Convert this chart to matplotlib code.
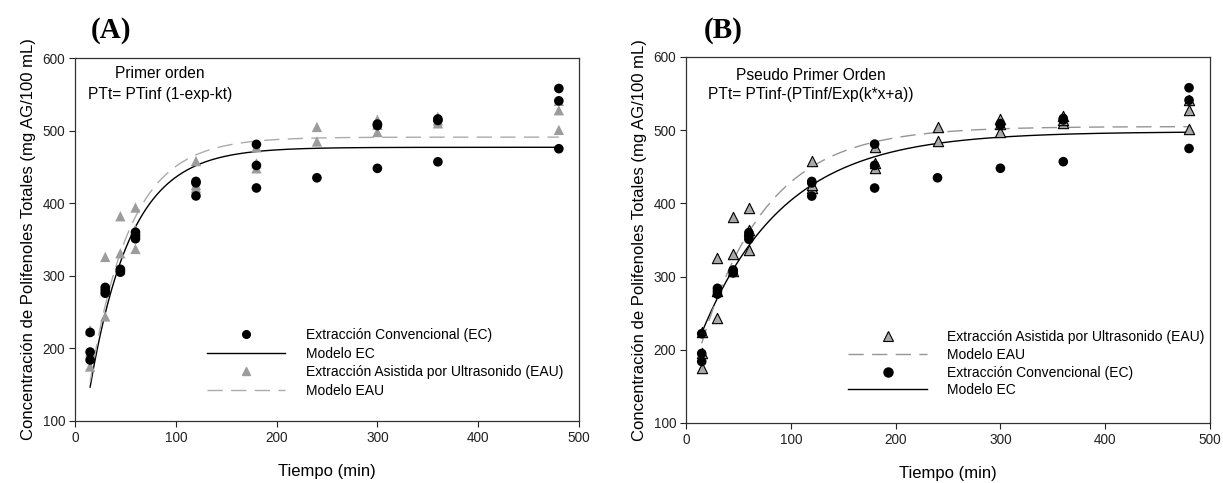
import numpy as np
import matplotlib
matplotlib.use("Agg")
import matplotlib.pyplot as plt
from matplotlib.lines import Line2D

plt.rcParams['font.family'] = ['Liberation Sans', 'DejaVu Sans']

# Extraction time (min) and total polyphenol content (mg AG/100 mL)
ec_t = [15, 15, 15, 30, 30, 30, 45, 45, 45, 60, 60, 60, 120, 120, 120,
        180, 180, 180, 240, 300, 300, 300, 360, 360, 360, 480, 480, 480]
ec_v = [184, 195, 222, 276, 280, 284, 305, 307, 309, 351, 355, 360, 410, 428, 430,
        421, 452, 481, 435, 448, 507, 509, 457, 514, 516, 475, 541, 558]

eau_t = [15, 15, 15, 30, 30, 30, 45, 45, 45, 60, 60, 60, 120, 120, 120,
         180, 180, 180, 240, 240, 300, 300, 300, 360, 360, 360, 480, 480, 480]
eau_v = [175, 195, 225, 244, 280, 326, 308, 331, 382, 337, 364, 394, 421, 425, 458,
         448, 455, 477, 485, 505, 498, 508, 515, 510, 514, 519, 501, 528, 541]

# First order model: PTt = PTinf (1 - exp(-k t))
fo_ec_ptinf, fo_ec_k = 477.0, 0.0245
fo_eau_ptinf, fo_eau_k = 491.0, 0.0250

# Pseudo first order model: PTt = PTinf - PTinf / exp(k t + a)
pfo_ec_ptinf, pfo_ec_k, pfo_ec_a = 498.0, 0.01263, 0.405
pfo_eau_ptinf, pfo_eau_k, pfo_eau_a = 505.0, 0.01603, 0.293

t_model = np.linspace(15, 480, 400)
fo_ec = fo_ec_ptinf * (1 - np.exp(-fo_ec_k * t_model))
fo_eau = fo_eau_ptinf * (1 - np.exp(-fo_eau_k * t_model))
pfo_ec = pfo_ec_ptinf - pfo_ec_ptinf / np.exp(pfo_ec_k * t_model + pfo_ec_a)
pfo_eau = pfo_eau_ptinf - pfo_eau_ptinf / np.exp(pfo_eau_k * t_model + pfo_eau_a)

x_ticks = [0, 100, 200, 300, 400, 500]
y_ticks = [100, 200, 300, 400, 500, 600]

W, H = 1223, 483
fig = plt.figure(figsize=(W / 100, H / 100), dpi=100)

def px_axes(x0, x1, y0, y1):
    return fig.add_axes([x0 / W, 1 - y1 / H, (x1 - x0) / W, (y1 - y0) / H])

ax_a = px_axes(75, 579, 58, 421)
ax_b = px_axes(686, 1210, 57, 423)

ylabel = "Concentración de Polifenoles Totales (mg AG/100 mL)"
dash = (0, (11, 6))

for ax in (ax_a, ax_b):
    ax.set_xlim(0, 500)
    ax.set_ylim(100, 600)
    ax.set_xticks(x_ticks)
    ax.set_yticks(y_ticks)
    ax.tick_params(direction='out', length=4, width=0.8, labelsize=9.8,
                   colors='#222222', top=False, right=False, pad=3)
    for s in ax.spines.values():
        s.set_linewidth(0.9)
        s.set_color('#333333')
    ax.set_xlabel("Tiempo (min)", fontsize=12, labelpad=14)
    ax.set_ylabel(ylabel, fontsize=12, labelpad=5)

# Panel A: first order
ax_a.scatter(eau_t, eau_v, marker='^', s=55, color='#9c9c9c', edgecolors='none', zorder=3)
ax_a.scatter(ec_t, ec_v, marker='o', s=48, color='black', edgecolors='none', zorder=4)
ax_a.plot(t_model, fo_ec, color='black', lw=1.0, zorder=2)
ax_a.plot(t_model, fo_eau, color='#ababab', lw=1.0, linestyle=dash, zorder=2)
handles_a = [
    Line2D([], [], marker='o', ls='none', color='black', markersize=5.5),
    Line2D([], [], color='black', lw=1.0),
    Line2D([], [], marker='^', ls='none', color='#9c9c9c', markersize=5.5),
    Line2D([], [], color='#ababab', lw=1.0, linestyle=dash),
]
labels_a = ["Extracción Convencional (EC)", "Modelo EC",
            "Extracción Asistida por Ultrasonido (EAU)", "Modelo EAU"]
ax_a.legend(handles_a, labels_a, loc='upper left', bbox_to_anchor=((207 - 75) / 504, (421 - 328) / 363),
            frameon=False, fontsize=10, handlelength=5.6, handletextpad=1.5,
            labelspacing=0.33, borderpad=0, borderaxespad=0)

# Panel B: pseudo first order
ax_b.scatter(eau_t, eau_v, marker='^', s=55, color='#a8a8a8', edgecolors='black',
             linewidths=0.8, zorder=3)
ax_b.scatter(ec_t, ec_v, marker='o', s=48, color='black', edgecolors='none', zorder=4)
ax_b.plot(t_model, pfo_ec, color='black', lw=1.0, zorder=2)
ax_b.plot(t_model, pfo_eau, color='#959595', lw=1.0, linestyle=dash, zorder=2)
handles_b = [
    Line2D([], [], marker='^', ls='none', markerfacecolor='#a8a8a8', markeredgecolor='black',
           markeredgewidth=0.8, markersize=6.5),
    Line2D([], [], color='#959595', lw=1.0, linestyle=dash),
    Line2D([], [], marker='o', ls='none', color='black', markersize=6.5),
    Line2D([], [], color='black', lw=1.0),
]
labels_b = ["Extracción Asistida por Ultrasonido (EAU)", "Modelo EAU",
            "Extracción Convencional (EC)", "Modelo EC"]
ax_b.legend(handles_b, labels_b, loc='upper left', bbox_to_anchor=((848 - 686) / 524, (423 - 330) / 366),
            frameon=False, fontsize=10, handlelength=5.7, handletextpad=1.4,
            labelspacing=0.27, borderpad=0, borderaxespad=0)

# Model equations and panel letters
fig.text(160 / W, 1 - 74 / H, "Primer orden", fontsize=11.2, ha='center', va='center')
fig.text(160 / W, 1 - 94 / H, "PTt= PTinf (1-exp-kt)", fontsize=11.2, ha='center', va='center')
fig.text(811 / W, 1 - 76 / H, "Pseudo Primer Orden", fontsize=11.2, ha='center', va='center')
fig.text(811 / W, 1 - 95 / H, "PTt= PTinf-(PTinf/Exp(k*x+a))", fontsize=11.2, ha='center', va='center')
fig.text(111 / W, 1 - 30 / H, "(A)", fontsize=21, fontweight='bold', family='Liberation Serif',
         ha='center', va='center')
fig.text(723 / W, 1 - 30 / H, "(B)", fontsize=21, fontweight='bold', family='Liberation Serif',
         ha='center', va='center')

fig.savefig("out.png", dpi=100)
